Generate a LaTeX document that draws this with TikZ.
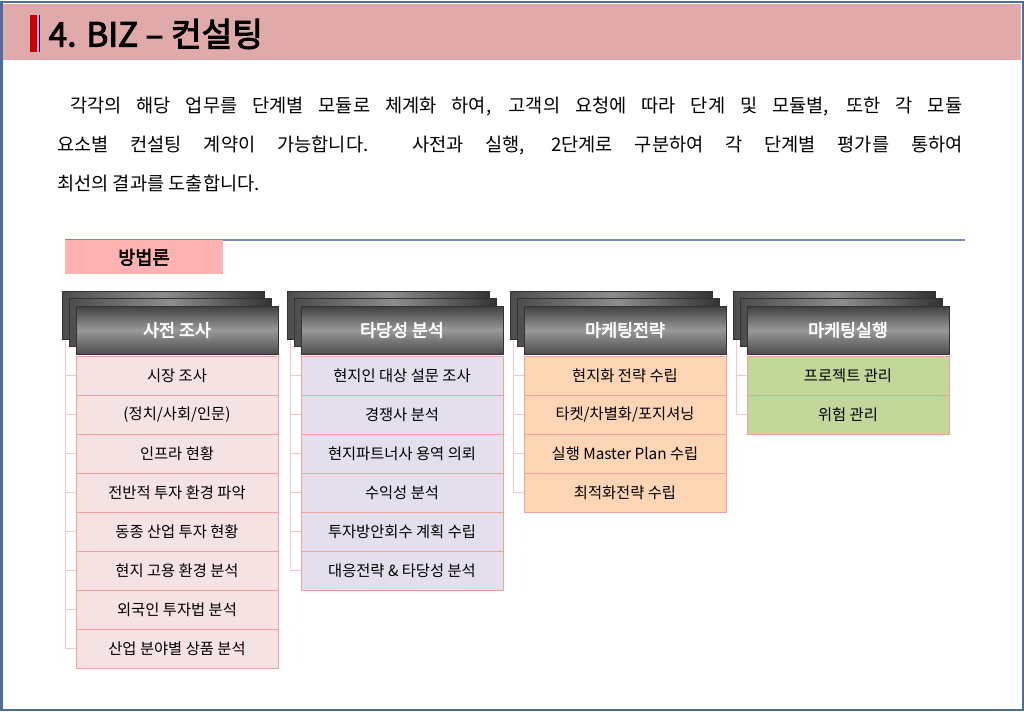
\documentclass[tikz,border=0pt]{standalone}
\usepackage{fontspec}
\setmainfont{Noto Sans CJK KR}[AutoFakeBold=3]
\usepackage{tikz}
\usetikzlibrary{positioning}
\definecolor{bandpink}{HTML}{E0AAAA}
\definecolor{framecol}{HTML}{4F6D9A}
\definecolor{pinkfill}{HTML}{F5E2E2}
\definecolor{lavfill}{HTML}{E4DFEC}
\definecolor{peachfill}{HTML}{FCD5B4}
\definecolor{greenfill}{HTML}{C4D79B}
\definecolor{rimcol}{HTML}{F2A0A0}
\tikzset{
  headbox/.style={draw=black!80,minimum width=151.5pt,minimum height=36pt,
    top color=black!75,bottom color=black!70,middle color=black!40,
    text=white,font=\bfseries\fontsize{13}{15}\selectfont},
  backbox/.style={draw=black!80,minimum width=151.5pt,minimum height=36pt,
    left color=black!70,right color=black!80,middle color=black!45},
  itembox/.style={draw=rimcol,minimum width=151.5pt,minimum height=29.25pt,
    font=\fontsize{11.5}{13}\selectfont},
  paraline/.style={anchor=west,inner sep=0pt,font=\fontsize{14}{16}\selectfont},
  tick/.style={draw=rimcol!60,line width=0.6pt}
}
\begin{document}
\begin{tikzpicture}[x=0.75pt,y=-0.75pt]
\useasboundingbox (0,0) rectangle (1024,711);
\draw[framecol,line width=1.5pt] (1.5,1.5) rectangle (1022.5,709.5);
\fill[bandpink] (3,4) rectangle (1021,60);
\fill[red!80!black] (30,15) rectangle (37,52);
\draw[blue!80!black,line width=0.8pt] (39.5,15) -- (39.5,52);
\node[anchor=west,font=\bfseries\fontsize{25}{28}\selectfont] (title) at (44,34) {4. BIZ – 컨설팅};

% paragraph
\node[paraline] (p1) at (70,107) {\makebox[669pt][s]{각각의 해당 업무를 단계별 모듈로 체계화 하여, 고객의 요청에 따라 단계 및 모듈별, 또한 각 모듈}};
\node[paraline] (p2) at (57,145) {\makebox[679pt][s]{요소별 컨설팅 계약이 가능합니다.\ \ 사전과 실행, 2단계로 구분하여 각 단계별 평가를 통하여}};
\node[paraline] (p3) at (57,183) {최선의 결과를 도출합니다.};

\draw[framecol!80,line width=0.8pt] (65,240) -- (965,240);
\node[fill=red!30,minimum width=118pt,minimum height=25.5pt,anchor=north west,
  font=\bfseries\fontsize{14}{16}\selectfont] (method) at (65,240) {방법론};

% columns
\foreach \cx/\name/\fillc/\n/\head/\items in {
  177/pre/pinkfill/8/사전 조사/{시장 조사,(정치/사회/인문),인프라 현황,전반적 투자 환경 파악,동종 산업 투자 현황,현지 고용 환경 분석,외국인 투자법 분석,산업 분야별 상품 분석},
  402/val/lavfill/6/타당성 분석/{현지인 대상 설문 조사,경쟁사 분석,현지파트너사 용역 의뢰,수익성 분석,투자방안회수 계획 수립,대응전략 \& 타당성 분석},
  625/mkt/peachfill/4/마케팅전략/{현지화 전략 수립,타켓/차별화/포지셔닝,실행 Master Plan 수립,최적화전략 수립},
  848/run/greenfill/2/마케팅실행/{프로젝트 관리,위험 관리}} {
  \node[backbox] (\name b1) at (\cx-14,315) {};
  \node[backbox] (\name b2) at (\cx-7,322) {};
  \node[headbox] (\name h) at (\cx,330) {\head};
  \draw[tick] (\cx-112,340) -- (\cx-112,356+39*\n-19.5);
  \foreach \it [count=\i] in \items {
    \node[itembox,fill=\fillc] (\name\i) at (\cx,356+39*\i-19.5) {\it};
    \draw[tick] (\cx-112,356+39*\i-19.5) -- (\name\i.west);
  }
}
\end{tikzpicture}
\end{document}
